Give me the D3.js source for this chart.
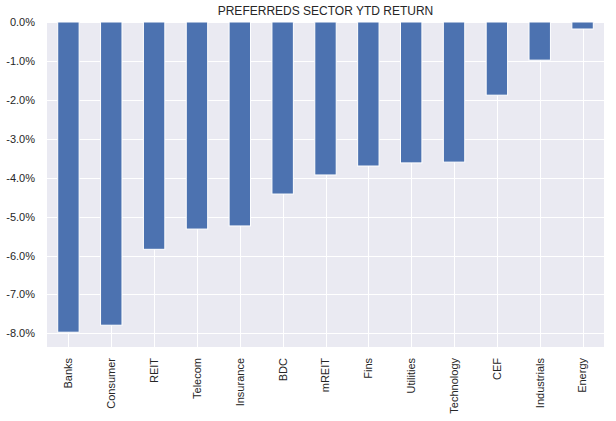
<!DOCTYPE html>
<html><head><meta charset="utf-8">
<script src="https://cdn.jsdelivr.net/npm/d3@7"></script>
<style>body{margin:0;background:#fff}text{font-family:"Liberation Sans",Arial,sans-serif}</style>
</head><body>
<svg id="c" width="616" height="421"></svg>
<script>
const categories = ["Banks","Consumer","REIT","Telecom","Insurance","BDC","mREIT","Fins","Utilities","Technology","CEF","Industrials","Energy"];
const values = [-7.97,-7.79,-5.84,-5.32,-5.24,-4.42,-3.93,-3.70,-3.62,-3.60,-1.88,-0.98,-0.18];
const yTicks = [0,-1,-2,-3,-4,-5,-6,-7,-8];
const title = "PREFERREDS SECTOR YTD RETURN";

const svg = d3.select("#c");
const m = {l:47, r:604, t:22, b:347};
const x = d3.scaleBand().domain(categories).range([m.l, m.r]).paddingInner(0).paddingOuter(0);
const y = d3.scaleLinear().domain([0, -8.35]).range([m.t, m.b]);

svg.append("rect").attr("x", m.l).attr("y", m.t).attr("width", m.r-m.l).attr("height", m.b-m.t).attr("fill", "#eaeaf2");

// grid
svg.append("g").selectAll("line").data(yTicks).join("line")
  .attr("x1", m.l).attr("x2", m.r).attr("y1", d=>Math.round(y(d))+0.5).attr("y2", d=>Math.round(y(d))+0.5)
  .attr("stroke", "#fff").attr("stroke-width", 1);
svg.append("g").selectAll("line").data(categories).join("line")
  .attr("y1", m.t).attr("y2", m.b).attr("x1", d=>Math.round(x(d)+x.bandwidth()/2)+0.5).attr("x2", d=>Math.round(x(d)+x.bandwidth()/2)+0.5)
  .attr("stroke", "#fff").attr("stroke-width", 1);

// bars
const bw = x.bandwidth()*0.5;
svg.append("g").selectAll("rect").data(categories).join("rect")
  .attr("x", d=>x(d)+x.bandwidth()/2-bw/2)
  .attr("y", (d,i)=>y(Math.max(0, values[i])))
  .attr("width", bw)
  .attr("height", (d,i)=>Math.abs(y(values[i])-y(0)))
  .attr("fill", "#4c72b0").attr("stroke", "#fff").attr("stroke-width", 1);

// y axis
const ya = d3.axisLeft(y).tickValues(yTicks).tickSize(0).tickPadding(12).tickFormat(d=>(d<0?"-":"")+Math.abs(d).toFixed(1)+"%");
const gy = svg.append("g").attr("transform", `translate(${m.l},0)`).call(ya);
gy.select(".domain").remove();
gy.selectAll("text").attr("font-size", 11).attr("fill", "#262626").attr("font-family", "Liberation Sans, Arial, sans-serif");

// x axis
const xa = d3.axisBottom(x).tickSize(0).tickPadding(0);
const gx = svg.append("g").attr("transform", `translate(0,${m.b})`).call(xa);
gx.select(".domain").remove();
gx.selectAll("text").attr("font-size", 11).attr("fill", "#262626").attr("font-family", "Liberation Sans, Arial, sans-serif")
  .attr("transform", "rotate(-90)").attr("text-anchor", "end").attr("dy", "0.35em").attr("x", -11).attr("y", 0);

svg.append("text").attr("x", (m.l+m.r)/2).attr("y", 15).attr("text-anchor", "middle")
  .attr("font-size", 12).attr("fill", "#262626").text(title);
</script>
</body></html>
